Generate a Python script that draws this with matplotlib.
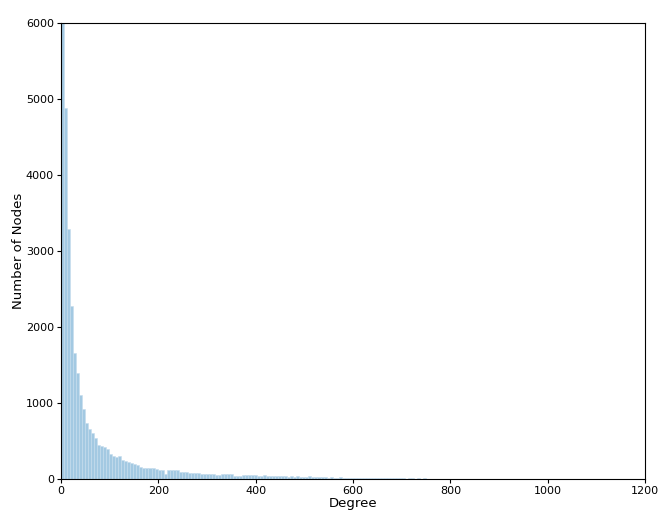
import numpy as np
import matplotlib.pyplot as plt

# degree histogram, bins of ~6.2 degree units
bin_width = 6.2
counts = [
    7600, 4880, 3290, 2280, 1660, 1400, 1105, 921, 733, 654,
    610, 535, 443, 434, 417, 390, 333, 307, 290, 298,
    250, 237, 219, 210, 193, 184, 158, 149, 149, 144,
    140, 131, 125, 125, 70, 114, 114, 113, 123, 88,
    88, 88, 84, 80, 80, 75, 61, 61, 70, 61,
    61, 57, 57, 61, 61, 61, 61, 44, 44, 44,
    51, 47, 47, 51, 57, 40, 40, 47, 44, 40,
    44, 40,
    36, 42, 33, 31, 38, 29, 34, 27, 30, 25, 33, 24, 22, 27, 20, 23, 19, 21, 17, 18,
    22, 15, 16, 14, 17, 13, 15, 12,
    14, 11, 12, 10, 13, 9, 11, 8, 10, 9, 8, 10, 7, 9, 6, 8, 7, 6, 8, 5,
    7, 6, 5, 6, 4, 5, 6, 4, 5, 3,
    4, 3, 5, 3, 4, 2, 3, 4, 2, 3, 2, 3, 2, 2, 3, 1, 2, 2, 1, 3,
    2, 1, 2, 1, 2, 1, 1, 2, 1, 1, 2, 1, 0, 1, 1,
    1, 0, 1, 1, 0, 1, 2, 0, 1, 0, 1, 1, 0, 0, 1, 0, 1, 0, 0, 1,
    0, 0, 1, 0, 0, 0, 1, 0, 0, 1, 0, 0, 0, 0, 1,
]
edges = np.arange(len(counts) + 1) * bin_width

fig = plt.figure(figsize=(6.65, 5.15), dpi=100)
ax = fig.add_axes([0.0917, 0.0699, 0.8783, 0.8854])

ax.hist(edges[:-1], bins=edges, weights=counts, color='#a3c9e2',
        edgecolor='#c6ddee', linewidth=0.4)

ax.set_xlim(0, 1200)
ax.set_ylim(0, 6000)
ax.set_xticks(np.arange(0, 1201, 200))
ax.set_yticks(np.arange(0, 6001, 1000))
ax.tick_params(labelsize=8, length=3, pad=2)
ax.set_xlabel('Degree', fontsize=9.5, labelpad=1)
ax.set_ylabel('Number of Nodes', fontsize=9.5, labelpad=1)

fig.savefig('out.png', dpi=100)
